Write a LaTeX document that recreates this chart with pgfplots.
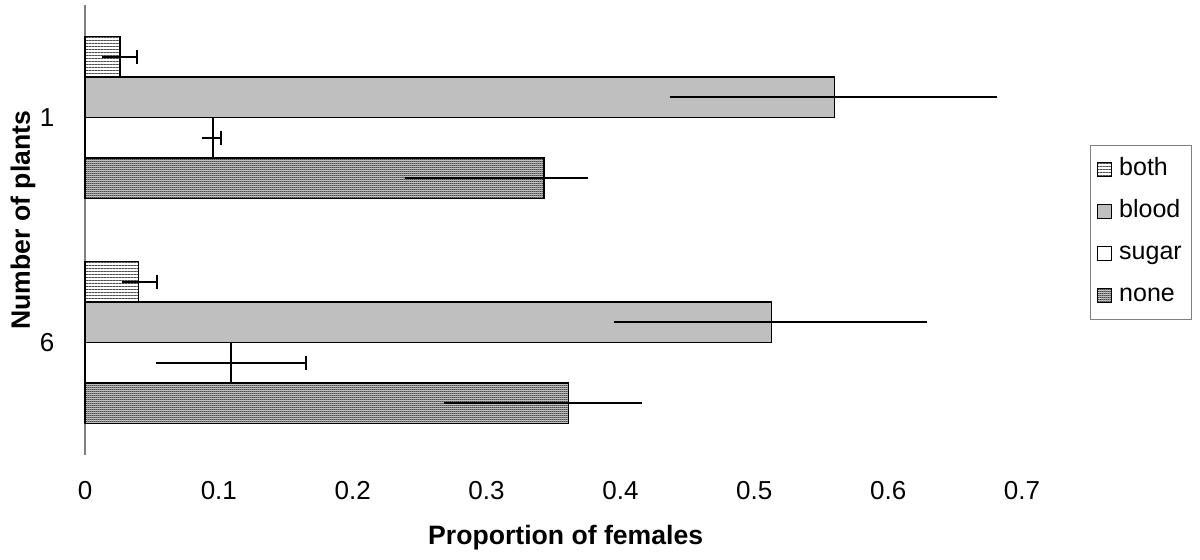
\documentclass[border=0pt]{standalone}
\usepackage{fontspec}
\setmainfont{Liberation Sans}
\usepackage{pgfplots}
\usepackage{pgfplotstable}
\pgfplotsset{compat=1.18}
\usetikzlibrary{patterns,patterns.meta}

\pgfdeclarepattern{
  name=checker,
  type=colored,
  bottom left={\pgfpoint{0pt}{0pt}},
  top right={\pgfpoint{1pt}{1pt}},
  tile size={\pgfpoint{1pt}{1pt}},
  code={
    \pgfsetfillcolor{black!35}
    \pgfpathrectangle{\pgfpoint{0pt}{0pt}}{\pgfpoint{1pt}{1pt}}
    \pgfusepath{fill}
    \pgfsetfillcolor{black!90}
    \pgfpathrectangle{\pgfpoint{0pt}{0pt}}{\pgfpoint{0.5pt}{0.5pt}}
    \pgfpathrectangle{\pgfpoint{0.5pt}{0.5pt}}{\pgfpoint{0.5pt}{0.5pt}}
    \pgfusepath{fill}
  }
}

% y = 1 : group "1" (top), y = 0 : group "6" (bottom)
\pgfplotstableread{
y x ep em
1 0.026 0.013 0.013
0 0.040 0.0135 0.0122
}\both
\pgfplotstableread{
y x ep em
1 0.560 0.121 0.123
0 0.513 0.116 0.118
}\blood
\pgfplotstableread{
y x ep em
1 0.0955 0.0062 0.008
0 0.109 0.056 0.056
}\sugar
\pgfplotstableread{
y x ep em
1 0.343 0.033 0.104
0 0.361 0.055 0.093
}\none

\begin{document}
\begin{tikzpicture}
\useasboundingbox (-42.5pt,-52pt) rectangle (557.5pt,227.5pt);
\begin{axis}[
  at={(0,0)}, anchor=south west,
  scale only axis, width=468.5pt, height=225pt,
  xmin=0, xmax=0.7, ymin=-0.5, ymax=1.5,
  clip=false,
  xbar, bar width=0.18,
  xtick={0,0.1,0.2,0.3,0.4,0.5,0.6,0.7},
  xticklabels={0,0.1,0.2,0.3,0.4,0.5,0.6,0.7},
  ytick={0,1}, yticklabels={6,1},
  xtick style={draw=none}, ytick style={draw=none},
  extra y ticks={-0.5,0.5,1.5}, extra y tick labels={},
  extra y tick style={major tick length=4pt, tick align=outside,
     tick style={draw=gray, line width=0.5pt}},
  axis x line*=bottom, axis y line*=left,
  x axis line style={draw=none},
  y axis line style={draw=gray, line width=0.6pt, -},
  ticklabel style={font=\fontsize{13}{15}\selectfont},
  xticklabel style={yshift=-9.5pt},
  yticklabel style={xshift=-7.5pt},
  /pgf/number format/assume math mode=true,
  xlabel={Proportion of females},
  ylabel={Number of plants},
  every axis x label/.style={at={(axis description cs:0.513,-0.1844)}, anchor=center,
     font=\fontsize{13.3}{16}\selectfont\bfseries},
  every axis y label/.style={at={(axis description cs:-0.0662,0.522)}, anchor=center, rotate=90,
     font=\fontsize{13.3}{16}\selectfont\bfseries},
  legend style={at={(1.0726,0.6889)}, anchor=north west, draw=gray, line width=0.6pt,
     font=\fontsize{12.5}{15}\selectfont, row sep=5pt, inner xsep=3pt, inner ysep=4pt,
     nodes={inner sep=2pt, text height=9pt, text depth=3pt},
     cells={anchor=west}},
  legend image code/.code={\draw[#1, line width=0.6pt] (0pt,-3.6pt) rectangle (7.2pt,3.6pt);},
  error bars/error bar style={line width=0.85pt, black},
]
\addplot[bar shift=0.27, draw=black, line width=0.7pt,
  pattern={Lines[angle=0,distance=1.5pt,line width=0.35pt]}, pattern color=black!70,
  error bars/.cd, x dir=both, x explicit, error mark=none]
  table[x=x, y=y, x error plus=ep, x error minus=em]{\both};
\addlegendentry{\hspace{1.5pt}both}
\addplot[bar shift=0.09, draw=black, line width=0.7pt, fill=black!25,
  error bars/.cd, x dir=both, x explicit, error mark=none]
  table[x=x, y=y, x error plus=ep, x error minus=em]{\blood};
\addlegendentry{\hspace{1.5pt}blood}
\addplot[bar shift=-0.09, draw=black, line width=0.7pt, fill=white,
  error bars/.cd, x dir=both, x explicit, error mark=none]
  table[x=x, y=y, x error plus=ep, x error minus=em]{\sugar};
\addlegendentry{\hspace{1.5pt}sugar}
\addplot[bar shift=-0.27, draw=black, line width=0.7pt, pattern=checker,
  error bars/.cd, x dir=both, x explicit, error mark=none]
  table[x=x, y=y, x error plus=ep, x error minus=em]{\none};
\addlegendentry{\hspace{1.5pt}none}
% caps on the plus side for "both" and "sugar"
\addplot[forget plot, bar shift=0.27, draw=none, fill=none,
  error bars/.cd, x dir=plus, x explicit, error mark=|,
  error mark options={mark size=3.5pt, line width=0.9pt, black}]
  table[x=x, y=y, x error plus=ep, x error minus=em]{\both};
\addplot[forget plot, bar shift=-0.09, draw=none, fill=none,
  error bars/.cd, x dir=plus, x explicit, error mark=|,
  error mark options={mark size=3.5pt, line width=0.9pt, black}]
  table[x=x, y=y, x error plus=ep, x error minus=em]{\sugar};
\end{axis}
\end{tikzpicture}
\end{document}
